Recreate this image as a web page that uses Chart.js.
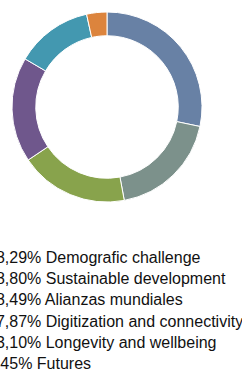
<!DOCTYPE html>
<html>
<head>
<meta charset="utf-8">
<script src="https://cdn.jsdelivr.net/npm/chart.js@4"></script>
<style>
  html, body { margin: 0; padding: 0; background: #fff; overflow: hidden; }
  body { width: 242px; height: 370px; position: relative; }
  #wrap { position: absolute; left: 0; top: 0; width: 214px; height: 214px; }
  #legend {
    position: absolute; left: -13px; top: 247px;
    font-family: "Liberation Sans", Arial, sans-serif;
    font-size: 16px; line-height: 21.2px; color: #111; white-space: nowrap;
  }
</style>
</head>
<body>
<div id="wrap"><canvas id="donut"></canvas></div>
<div id="legend"></div>
<script>
const categories = [
  'Demografic challenge',
  'Sustainable development',
  'Alianzas mundiales',
  'Digitization and connectivity',
  'Longevity and wellbeing',
  'Futures'
];
const shares = [28.29, 18.80, 18.49, 17.87, 13.10, 3.45];
const sliceColors = ['#6881a5', '#7c918b', '#88a34c', '#6f578c', '#4398b0', '#dc843d'];

document.addEventListener('DOMContentLoaded', () => {
  const legend = document.getElementById('legend');
  categories.forEach((name, i) => {
    const row = document.createElement('div');
    row.textContent = `${shares[i].toFixed(2).replace('.', ',')}% ${name}`;
    legend.appendChild(row);
  });

  new Chart(document.getElementById('donut'), {
    type: 'doughnut',
    data: {
      labels: categories,
      datasets: [{
        data: shares,
        backgroundColor: sliceColors,
        borderColor: '#ffffff',
        borderWidth: 1
      }]
    },
    options: {
      responsive: true,
      maintainAspectRatio: false,
      animation: false,
      cutout: '75%',
      layout: { padding: 11.5 },
      plugins: {
        legend: { display: false },
        tooltip: { enabled: false }
      }
    }
  });
});
</script>
</body>
</html>
